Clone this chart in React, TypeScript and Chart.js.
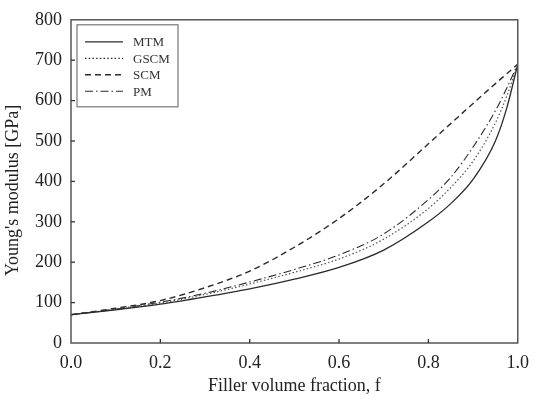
import React, { useEffect, useRef } from "react";
import { Chart, registerables } from "chart.js";

Chart.register(...registerables);

const fractions = [0, 0.1, 0.2, 0.3, 0.4, 0.5, 0.6, 0.7, 0.8, 0.85, 0.9, 0.95, 0.975, 1.0];
const mtm = [70, 82, 96, 114, 134, 158, 187, 230, 300, 345, 405, 500, 580, 690];
const gscm = [70, 83, 99, 120, 146, 175, 208, 257, 333, 385, 450, 545, 610, 690];
const scm = [70, 86, 105, 137, 178, 237, 308, 394, 493, 543, 593, 642, 666, 690];
const pm = [70, 84, 101, 123, 151, 182, 218, 270, 355, 410, 485, 575, 630, 690];
const seriesLabels = ["MTM", "GSCM", "SCM", "PM"];
const xTicks = [0, 0.2, 0.4, 0.6, 0.8, 1.0];
const yTicks = [0, 100, 200, 300, 400, 500, 600, 700, 800];

const SERIF = "'Liberation Serif', 'Times New Roman', serif";
const LINE = "#2a2a2a";

const toPoints = (ys: number[]) => fractions.map((f, i) => ({ x: f, y: ys[i] }));

const framePlugin = {
  id: "frame",
  afterDraw(chart: any) {
    const { ctx, chartArea: a, scales } = chart;
    ctx.save();
    ctx.strokeStyle = "#555";
    ctx.lineWidth = 1.5;
    ctx.strokeRect(a.left, a.top, a.right - a.left, a.bottom - a.top);
    // inward tick marks
    ctx.lineWidth = 1.3;
    ctx.strokeStyle = "#333";
    yTicks.forEach((v) => {
      if (v === 0 || v === 800) return;
      const y = scales.y.getPixelForValue(v);
      ctx.beginPath();
      ctx.moveTo(a.left, y);
      ctx.lineTo(a.left + 4, y);
      ctx.stroke();
    });
    xTicks.forEach((v) => {
      if (v === 0 || v === 1) return;
      const x = scales.x.getPixelForValue(v);
      ctx.beginPath();
      ctx.moveTo(x, a.bottom);
      ctx.lineTo(x, a.bottom - 4);
      ctx.stroke();
    });
    // legend
    const bx = a.left + 6;
    const by = a.top + 5;
    const bw = 101;
    const bh = 82;
    ctx.fillStyle = "#fff";
    ctx.fillRect(bx, by, bw, bh);
    ctx.strokeStyle = "#777";
    ctx.lineWidth = 1.2;
    ctx.strokeRect(bx, by, bw, bh);
    ctx.font = `13px ${SERIF}`;
    ctx.textBaseline = "middle";
    ctx.textAlign = "left";
    chart.data.datasets.forEach((ds: any, i: number) => {
      const y = by + 17 + i * 16.5;
      ctx.strokeStyle = LINE;
      ctx.lineWidth = ds.borderWidth;
      ctx.setLineDash(ds.borderDash || []);
      ctx.beginPath();
      ctx.moveTo(bx + 8, y);
      ctx.lineTo(bx + 46, y);
      ctx.stroke();
      ctx.setLineDash([]);
      ctx.fillStyle = "#333";
      ctx.fillText(ds.label, bx + 56, y + 1);
    });
    ctx.restore();
  },
};

export default function App() {
  const ref = useRef<HTMLCanvasElement>(null);
  useEffect(() => {
    const canvas = ref.current!;
    const chart = new Chart(canvas, {
      type: "line",
      data: {
        datasets: [
          { label: seriesLabels[0], data: toPoints(mtm), borderColor: LINE, borderWidth: 1.3, borderDash: [] },
          { label: seriesLabels[1], data: toPoints(gscm), borderColor: "#555", borderWidth: 1.2, borderDash: [1.5, 2.2] },
          { label: seriesLabels[2], data: toPoints(scm), borderColor: LINE, borderWidth: 1.4, borderDash: [6, 4] },
          { label: seriesLabels[3], data: toPoints(pm), borderColor: LINE, borderWidth: 1.1, borderDash: [8, 3, 1.5, 3] },
        ] as any,
      },
      options: {
        animation: false,
        responsive: false,
        maintainAspectRatio: false,
        layout: { padding: { top: 17, right: 11, left: 0, bottom: 0 } },
        elements: { point: { radius: 0 }, line: { cubicInterpolationMode: "monotone", fill: false } },
        plugins: { legend: { display: false }, tooltip: { enabled: false } },
        scales: {
          x: {
            type: "linear",
            min: 0,
            max: 1,
            afterBuildTicks: (s: any) => {
              s.ticks = xTicks.map((v) => ({ value: v }));
            },
            afterFit: (s: any) => {
              s.height = 59;
            },
            grid: { display: false, drawTicks: false },
            border: { display: false },
            ticks: {
              padding: 9,
              color: "#222",
              font: { family: SERIF, size: 18 },
              maxRotation: 0,
              callback: (v: any) => Number(v).toFixed(1),
            },
            title: {
              display: true,
              text: "Filler volume fraction, f",
              color: "#222",
              font: { family: SERIF, size: 18 },
              padding: { top: 0, bottom: 5 },
            },
          },
          y: {
            type: "linear",
            min: 0,
            max: 800,
            afterBuildTicks: (s: any) => {
              s.ticks = yTicks.map((v) => ({ value: v }));
            },
            afterFit: (s: any) => {
              s.width = 71;
            },
            grid: { display: false, drawTicks: false },
            border: { display: false },
            ticks: {
              padding: 9,
              color: "#222",
              font: { family: SERIF, size: 18 },
              callback: (v: any) => String(v),
            },
            title: {
              display: true,
              text: "Young's modulus [GPa]\u00A0\u00A0\u00A0\u00A0",
              color: "#222",
              font: { family: SERIF, size: 18 },
              padding: { top: 2, bottom: 0 },
            },
          },
        },
      },
      plugins: [framePlugin],
    });
    return () => chart.destroy();
  }, []);
  return (
    <div style={{ position: "fixed", left: 0, top: 0, width: 538, height: 402, background: "#fff" }}>
      <canvas ref={ref} width={538} height={402} style={{ display: "block" }} />
    </div>
  );
}
